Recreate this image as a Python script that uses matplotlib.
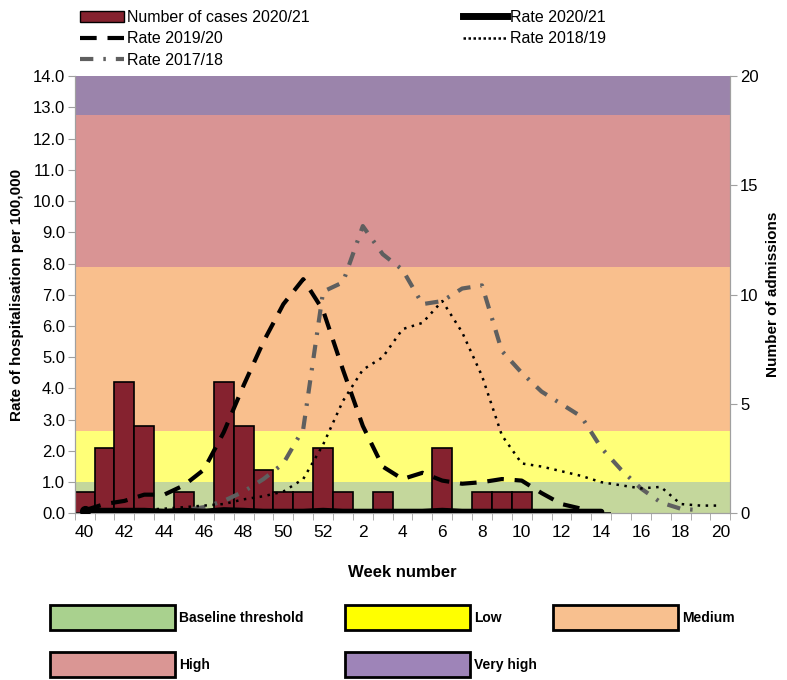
import matplotlib
matplotlib.use("Agg")
import matplotlib.pyplot as plt
from matplotlib.patches import Patch, Rectangle
from matplotlib.lines import Line2D

plt.rcParams["font.family"] = ["Liberation Sans Narrow", "Liberation Sans", "DejaVu Sans"]

# week labels, season week 40 .. week 20
weeks = [40, 41, 42, 43, 44, 45, 46, 47, 48, 49, 50, 51, 52,
         1, 2, 3, 4, 5, 6, 7, 8, 9, 10, 11, 12, 13, 14, 15, 16, 17, 18, 19, 20]

cases_2021 = [1, 3, 6, 4, 0, 1, 0, 6, 4, 2, 1, 1, 3,
              1, 0, 1, 0, 0, 3, 0, 1, 1, 1, 0, 0, 0, 0]
rate_2021 = [0.08, 0.08, 0.08, 0.08, 0.05, 0.08, 0.05, 0.1, 0.08, 0.05, 0.05, 0.05, 0.08,
             0.05, 0.05, 0.05, 0.05, 0.05, 0.08, 0.05, 0.05, 0.05, 0.05, 0.05, 0.05, 0.05, 0.05]
rate_1920 = [0.1, 0.3, 0.4, 0.6, 0.6, 0.9, 1.4, 2.6, 4.1, 5.5, 6.7, 7.5, 6.5,
             4.6, 2.8, 1.5, 1.1, 1.3, 1.05, 0.95, 1.0, 1.1, 1.05, 0.65, 0.3, 0.15]
rate_1819 = [0.0, 0.05, 0.1, 0.12, 0.15, 0.2, 0.25, 0.3, 0.45, 0.55, 0.7, 1.1, 2.2,
             3.6, 4.6, 5.0, 5.9, 6.1, 6.8, 5.8, 4.4, 2.5, 1.6, 1.5, 1.35, 1.2, 1.0,
             0.9, 0.8, 0.85, 0.3, 0.25, 0.25]
rate_1718 = [0.05, 0.05, 0.05, 0.05, 0.05, 0.1, 0.2, 0.4, 0.7, 1.1, 1.6, 2.7, 7.1,
             7.4, 9.2, 8.3, 7.8, 6.7, 6.8, 7.2, 7.3, 5.2, 4.5, 3.9, 3.5, 3.1, 2.1,
             1.4, 0.8, 0.35, 0.15, 0.1]

# activity bands on the rate axis
band_names = ["Baseline threshold", "Low", "Medium", "High", "Very high"]
band_edges = [0.0, 1.0, 2.65, 7.9, 12.75, 14.0]
band_colors = ["#c4d79c", "#ffff78", "#f9bf8d", "#d99494", "#9b84ab"]
legend_colors = ["#a9d18e", "#ffff00", "#f8c08f", "#da9694", "#9e84b8"]

fig = plt.figure(figsize=(7.87, 6.8), dpi=100)
ax = fig.add_axes([0.095, 0.245, 0.833, 0.643])
ax2 = ax.twinx()
ax.set_zorder(ax2.get_zorder() + 1)
ax.patch.set_visible(False)

x = list(range(len(weeks)))
for lo, hi, c in zip(band_edges[:-1], band_edges[1:], band_colors):
    ax2.axhspan(lo * 20 / 14, hi * 20 / 14, color=c, lw=0, zorder=0)

ax2.bar(x[:len(cases_2021)], cases_2021, width=1.0, color="#85222f",
        edgecolor="black", linewidth=1.2, zorder=2)

DASH_1718 = [3.2, 2.4, 0.6, 2.4]
DASH_1920 = [4, 2.6]
DOT_1819 = [1, 2.2]

ax.plot(x[:len(rate_1718)], rate_1718, color="#5f5f5f", lw=3,
        dashes=DASH_1718, zorder=3)
ax.plot(x[:len(rate_1819)], rate_1819, color="black", lw=1.8,
        dashes=DOT_1819, zorder=4)
ax.plot(x[:len(rate_1920)], rate_1920, color="black", lw=3,
        dashes=DASH_1920, zorder=5)
ax.plot(x[:len(rate_2021)], rate_2021, color="black", lw=4.5,
        solid_capstyle="round", zorder=6)
ax.plot([x[0]], [rate_2021[0]], "o", color="black", ms=7, zorder=6)

ax.set_xlim(-0.5, len(weeks) - 0.5)
ax.set_ylim(0, 14)
ax2.set_ylim(0, 20)

ax.set_yticks(range(0, 15))
ax.set_yticklabels(["%.1f" % v for v in range(0, 15)], fontsize=12)
ax2.set_yticks([0, 5, 10, 15, 20])
ax2.set_yticklabels(["0", "5", "10", "15", "20"], fontsize=12)

ax.set_xticks(x[::2])
ax.set_xticklabels([str(w) for w in weeks[::2]], fontsize=12.5)
ax.set_xticks([i - 0.5 for i in x] + [x[-1] + 0.5], minor=True)
ax.tick_params(axis="x", which="major", length=0, pad=8)
ax.tick_params(axis="x", which="minor", length=5, color="#a0a0a0", direction="out")
ax.tick_params(axis="y", length=5, color="#a0a0a0", pad=2)
ax2.tick_params(axis="y", length=5, color="#a0a0a0", pad=2)

for a in (ax, ax2):
    a.spines["top"].set_visible(False)
    for s in ("left", "right", "bottom"):
        a.spines[s].set_color("#a0a0a0")

ax.set_xlabel("Week number", fontsize=12, fontweight="bold", labelpad=18)
ax.set_ylabel("Rate of hospitalisation per 100,000", fontsize=11, fontweight="bold", labelpad=6)
ax2.set_ylabel("Number of admissions", fontsize=11, fontweight="bold", labelpad=5)

# top legend (series)
h_cases = Patch(facecolor="#85222f", edgecolor="black", lw=1)
h_2021 = Line2D([], [], color="black", lw=5)
h_1920 = Line2D([], [], color="black", lw=3, dashes=DASH_1920)
h_1819 = Line2D([], [], color="black", lw=1.8, dashes=[1, 1])
h_1718 = Line2D([], [], color="#5f5f5f", lw=3, dashes=DASH_1718)
fig.legend([h_cases, h_1920, h_1718, h_2021, h_1819],
           ["Number of cases 2020/21", "Rate 2019/20", "Rate 2017/18",
            "Rate 2020/21", "Rate 2018/19"],
           ncol=2, loc="upper left", bbox_to_anchor=(0.093, 0.995), frameon=False,
           fontsize=11.5, handlelength=2.8, handletextpad=0.15, columnspacing=9.6,
           labelspacing=0.4, borderaxespad=0)

# bottom legend (activity bands), drawn as boxes + labels
box_pos = [(50, 605), (345, 605), (553, 605), (50, 652), (345, 652)]
W, H = 125, 25
for (px, py), name, c in zip(box_pos, band_names, legend_colors):
    fig.add_artist(Rectangle((px / 787, 1 - (py + H) / 680), W / 787, H / 680,
                             transform=fig.transFigure, facecolor=c,
                             edgecolor="black", lw=2))
    fig.text((px + W + 4) / 787, 1 - (py + H / 2) / 680, name, fontsize=10,
             fontweight="bold", va="center", ha="left")

fig.savefig("out.png", dpi=100)
